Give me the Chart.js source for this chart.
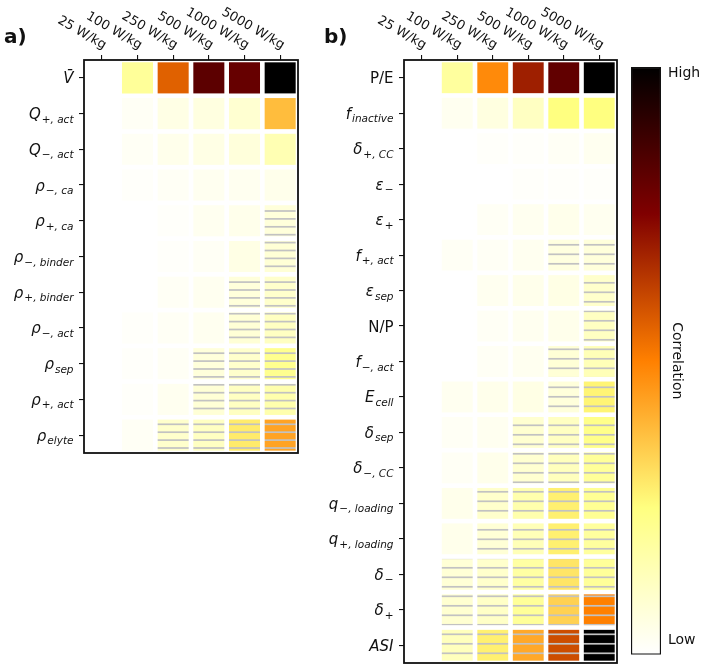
<!DOCTYPE html>
<html><head><meta charset="utf-8">
<script src="https://cdn.jsdelivr.net/npm/chart.js@4.4.0/dist/chart.umd.min.js"></script>
<style>
html,body{margin:0;padding:0;background:#fff;width:702px;height:670px;overflow:hidden}
canvas{position:absolute;top:0}
</style></head><body>
<canvas id="ca" width="315" height="670" style="left:0"></canvas>
<canvas id="cb" width="300" height="670" style="left:320px"></canvas>
<canvas id="cc" width="82" height="670" style="left:620px"></canvas>
<script>
// ---------------- data ----------------
const columns = ['25 W/kg', '100 W/kg', '250 W/kg', '500 W/kg', '1000 W/kg', '5000 W/kg'];

const rowsA = ['V\u0304', 'Q_{+,act}', 'Q_{\u2212,act}', '\u03c1_{\u2212,ca}', '\u03c1_{+,ca}', '\u03c1_{\u2212,binder}',
  '\u03c1_{+,binder}', '\u03c1_{\u2212,act}', '\u03c1_{sep}', '\u03c1_{+,act}', '\u03c1_{elyte}'];
const valuesA = [
  [0, 0.20, 0.56, 0.82, 0.80, 1.00],
  [0, 0.02, 0.05, 0.06, 0.09, 0.38],
  [0, 0.02, 0.04, 0.05, 0.07, 0.15],
  [0, 0.01, 0.02, 0.03, 0.03, 0.04],
  [0, 0.00, 0.01, 0.03, 0.04, 0.07],
  [0, 0.00, 0.01, 0.02, 0.05, 0.08],
  [0, 0.00, 0.02, 0.03, 0.07, 0.10],
  [0, 0.01, 0.02, 0.03, 0.08, 0.12],
  [0, 0.01, 0.02, 0.07, 0.10, 0.22],
  [0, 0.01, 0.03, 0.08, 0.12, 0.16],
  [0, 0.02, 0.10, 0.12, 0.29, 0.43]
];
const hatchA = [
  [0,0,0,0,0,0],[0,0,0,0,0,0],[0,0,0,0,0,0],[0,0,0,0,0,0],
  [0,0,0,0,0,1],[0,0,0,0,0,1],[0,0,0,0,1,1],[0,0,0,0,1,1],
  [0,0,0,1,1,1],[0,0,0,1,1,1],[0,0,1,1,1,1]
];

const rowsB = ['P/E', 'f_{inactive}', '\u03b4_{+,CC}', '\u03b5_{\u2212}', '\u03b5_{+}', 'f_{+,act}', '\u03b5_{sep}', 'N/P',
  'f_{\u2212,act}', 'E_{cell}', '\u03b4_{sep}', '\u03b4_{\u2212,CC}', 'q_{\u2212,loading}', 'q_{+,loading}',
  '\u03b4_{\u2212}', '\u03b4_{+}', 'ASI'];
const valuesB = [
  [0, 0.19, 0.48, 0.69, 0.81, 1.00],
  [0, 0.03, 0.06, 0.12, 0.25, 0.25],
  [0, 0.00, 0.01, 0.01, 0.02, 0.03],
  [0, 0.00, 0.00, 0.01, 0.01, 0.01],
  [0, 0.00, 0.02, 0.03, 0.04, 0.03],
  [0, 0.02, 0.02, 0.03, 0.06, 0.07],
  [0, 0.00, 0.03, 0.04, 0.05, 0.10],
  [0, 0.00, 0.02, 0.03, 0.04, 0.12],
  [0, 0.00, 0.02, 0.03, 0.08, 0.14],
  [0, 0.03, 0.04, 0.05, 0.07, 0.27],
  [0, 0.02, 0.03, 0.09, 0.12, 0.23],
  [0, 0.02, 0.04, 0.09, 0.13, 0.20],
  [0, 0.04, 0.10, 0.16, 0.28, 0.21],
  [0, 0.04, 0.08, 0.14, 0.28, 0.19],
  [0, 0.08, 0.10, 0.18, 0.30, 0.20],
  [0, 0.09, 0.11, 0.20, 0.34, 0.50],
  [0, 0.13, 0.28, 0.42, 0.60, 1.00]
];
const hatchB = [
  [0,0,0,0,0,0],[0,0,0,0,0,0],[0,0,0,0,0,0],[0,0,0,0,0,0],[0,0,0,0,0,0],
  [0,0,0,0,1,1],[0,0,0,0,0,1],[0,0,0,0,0,1],[0,0,0,0,1,1],[0,0,0,0,1,1],
  [0,0,0,1,1,1],[0,0,0,1,1,1],[0,0,1,1,1,1],[0,0,1,1,1,1],
  [0,1,1,1,1,1],[0,1,1,1,1,1],[0,1,1,1,1,1]
];
const uprightLabels = ['P/E', 'N/P'];

const colorbarTicks = [0.025, 0.99];
const colorbarLabels = ['Low', 'High'];

// ---------------- helpers ----------------
const FONT = '"DejaVu Sans", "Liberation Sans", sans-serif';
function clamp(v) { return Math.max(0, Math.min(1, v)); }
function afmhotR(v) {
  const x = 1 - clamp(v);
  const r = clamp(2 * x), g = clamp(2 * x - 0.5), b = clamp(2 * x - 1);
  return 'rgb(' + Math.round(r * 255) + ',' + Math.round(g * 255) + ',' + Math.round(b * 255) + ')';
}
function hatchPattern(fill, spacing, n, phase) {
  const H = Math.round(n * spacing);
  const c = document.createElement('canvas');
  c.width = 8; c.height = H;
  const g = c.getContext('2d');
  g.fillStyle = fill; g.fillRect(0, 0, 8, H);
  g.fillStyle = '#c2c2c2';
  for (let k = 0; k < n; k++) {
    const y = phase + k * spacing;
    g.fillRect(0, y - 0.85, 8, 1.7);
  }
  return g.createPattern(c, 'repeat');
}
function drawRowLabel(ctx, s, xr, y) {
  const m = s.match(/^(.*?)_\{(.*)\}$/);
  const main = m ? m[1] : s;
  const sub = m ? m[2].replace(/,/g, ', ') : '';
  const upright = uprightLabels.includes(s);
  const mainFont = (upright ? '' : 'italic ') + '15px ' + FONT;
  const subFont = 'italic 10.5px ' + FONT;
  ctx.font = mainFont; const wm = ctx.measureText(main).width;
  ctx.font = subFont; const ws = sub ? ctx.measureText(sub).width + 1 : 0;
  const x0 = xr - wm - ws;
  ctx.textAlign = 'left'; ctx.textBaseline = 'alphabetic';
  ctx.font = mainFont; ctx.fillText(main, x0, y + 5.5);
  if (sub) { ctx.font = subFont; ctx.fillText(sub, x0 + wm + 1, y + 9); }
}
function panelPlugin(rows, title) {
  return {
    id: 'panelText',
    afterDraw(chart) {
      const ctx = chart.ctx, ca = chart.chartArea;
      const xs = chart.scales.x, ys = chart.scales.y;
      ctx.save();
      ctx.strokeStyle = '#111'; ctx.lineWidth = 1.8;
      ctx.strokeRect(ca.left, ca.top, ca.right - ca.left, ca.bottom - ca.top);
      ctx.fillStyle = '#111';
      ctx.font = '13px ' + FONT; ctx.textAlign = 'right'; ctx.textBaseline = 'bottom';
      columns.forEach((lab, i) => {
        const x = xs.getPixelForValue(i);
        ctx.save(); ctx.translate(x, ca.top - 8); ctx.rotate(Math.PI / 6);
        ctx.fillText(lab, 0, 0); ctx.restore();
      });
      rows.forEach((s, i) => drawRowLabel(ctx, s, ca.left - 10.5, ys.getPixelForValue(i)));
      ctx.font = 'bold 20px ' + FONT; ctx.textAlign = 'left'; ctx.textBaseline = 'alphabetic';
      ctx.fillText(title, 4, 43);
      ctx.restore();
    }
  };
}
function makePanel(id, rows, values, hatch, title, padRight, padBottom, spacing, n, phase) {
  const datasets = rows.map((r, ri) => ({
    label: r,
    data: values[ri].map(() => [ri - 0.435, ri + 0.435]),
    backgroundColor: values[ri].map((v, ci) => hatch[ri][ci] ? hatchPattern(afmhotR(v), spacing, n, phase) : afmhotR(v)),
    borderWidth: 0,
    grouped: false,
    categoryPercentage: 1,
    barPercentage: 0.87
  }));
  return new Chart(document.getElementById(id), {
    type: 'bar',
    data: { labels: columns, datasets },
    options: {
      responsive: false, animation: false, events: [],
      layout: { padding: { left: 0, top: 0, right: padRight, bottom: padBottom } },
      plugins: { legend: { display: false }, tooltip: { enabled: false } },
      scales: {
        x: {
          position: 'top', offset: true,
          grid: { offset: false, drawOnChartArea: false, drawTicks: true, tickLength: 5, color: '#111', lineWidth: 1.1 },
          border: { display: false },
          ticks: { display: false },
          afterFit: s => { s.height = 60; }
        },
        y: {
          type: 'linear', min: -0.5, max: rows.length - 0.5, reverse: true,
          grid: { drawOnChartArea: false, drawTicks: true, tickLength: 5, color: '#111', lineWidth: 1.1 },
          border: { display: false },
          ticks: { display: false },
          afterBuildTicks: s => { s.ticks = rows.map((_, i) => ({ value: i })); },
          afterFit: s => { s.width = 84; }
        }
      }
    },
    plugins: [panelPlugin(rows, title)]
  });
}

makePanel('ca', rowsA, valuesA, hatchA, 'a)', 17, 217, 7.9, 10, 5.6);
makePanel('cb', rowsB, valuesB, hatchB, 'b)', 3, 7, 9.5, 2, 7.3);

// ---------------- colorbar ----------------
const cbStops = [0, 0.25, 0.5, 0.75, 1];
new Chart(document.getElementById('cc'), {
  type: 'bar',
  data: {
    labels: ['Correlation'],
    datasets: [{
      data: [[0, 1]],
      backgroundColor: (c) => {
        const ch = c.chart, ca = ch.chartArea;
        if (!ca) return '#fff';
        const gr = ch.ctx.createLinearGradient(0, ca.bottom, 0, ca.top);
        cbStops.forEach(v => gr.addColorStop(v, afmhotR(v)));
        return gr;
      },
      borderColor: '#111', borderWidth: 1.5, borderSkipped: false,
      categoryPercentage: 1, barPercentage: 1
    }]
  },
  options: {
    responsive: false, animation: false, events: [],
    layout: { padding: { left: 11, top: 67, right: 0, bottom: 15 } },
    plugins: { legend: { display: false }, tooltip: { enabled: false } },
    scales: {
      x: { display: false },
      y: {
        position: 'right', min: 0, max: 1,
        grid: { display: false, drawTicks: false },
        border: { display: false },
        afterBuildTicks: s => { s.ticks = colorbarTicks.map(v => ({ value: v })); },
        ticks: { padding: 7, color: '#111', font: { size: 14, family: FONT },
          callback: (v, i) => colorbarLabels[i] },
        title: { display: true, text: 'Correlation', color: '#111', font: { size: 14, family: FONT },
          padding: { top: 16.6, bottom: 0 } },
        afterFit: s => { s.width = 41; }
      }
    }
  }
});
</script>
</body></html>
